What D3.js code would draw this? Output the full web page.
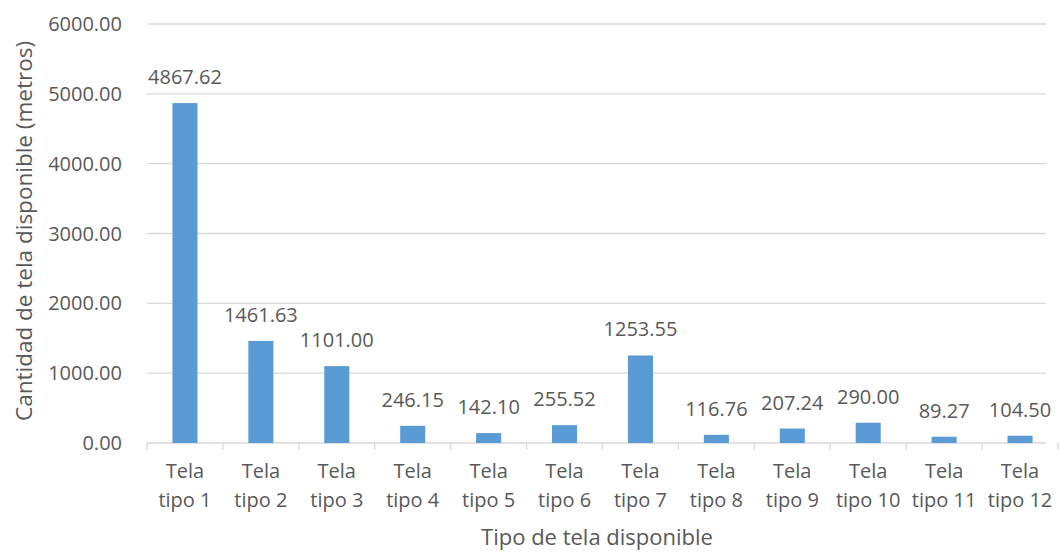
<!DOCTYPE html>
<html>
<head>
<meta charset="utf-8">
<script src="https://cdn.jsdelivr.net/npm/d3@7"></script>
<style>
  body { margin: 0; background: #fff; }
  svg text { font-family: "Open Sans", sans-serif; fill: #595959; }
</style>
</head>
<body>
<svg id="chart" width="1059" height="553"></svg>
<script>
(function() {
    var categories = ["Tela tipo 1", "Tela tipo 2", "Tela tipo 3", "Tela tipo 4", "Tela tipo 5", "Tela tipo 6",
                      "Tela tipo 7", "Tela tipo 8", "Tela tipo 9", "Tela tipo 10", "Tela tipo 11", "Tela tipo 12"];
    var values = [4867.62, 1461.63, 1101.00, 246.15, 142.10, 255.52, 1253.55, 116.76, 207.24, 290.00, 89.27, 104.50];
    var yTicks = [0, 1000, 2000, 3000, 4000, 5000, 6000];

    var left = 147, right = 1058, top = 24, bottom = 443;

    var svg = d3.select("#chart");

    var x = d3.scaleBand()
        .domain(categories)
        .range([left, right])
        .paddingInner(0.67)
        .paddingOuter(0.335);

    var y = d3.scaleLinear()
        .domain([0, 6000])
        .range([bottom, top]);

    // gridlines
    svg.append("g")
        .selectAll("line")
        .data(yTicks)
        .join("line")
            .attr("x1", left)
            .attr("x2", right - 12)
            .attr("y1", (d) => y(d))
            .attr("y2", (d) => y(d))
            .attr("stroke", "#d9d9d9")
            .attr("stroke-width", 1.3);

    // y tick labels
    svg.append("g")
        .selectAll("text")
        .data(yTicks)
        .join("text")
            .attr("x", 122)
            .attr("y", (d) => y(d))
            .attr("dy", "0.35em")
            .attr("text-anchor", "end")
            .style("font-size", "20px")
            .text((d) => d.toFixed(2));

    // x axis ticks
    var bandStep = x.step();
    var tickPos = categories.map((c, i) => left + i * bandStep).concat([right]);
    svg.append("g")
        .selectAll("line")
        .data(tickPos)
        .join("line")
            .attr("x1", (d) => d)
            .attr("x2", (d) => d)
            .attr("y1", bottom)
            .attr("y2", bottom + 7)
            .attr("stroke", "#d9d9d9")
            .attr("stroke-width", 1.3);

    // bars
    svg.append("g")
        .selectAll("rect")
        .data(values)
        .join("rect")
            .attr("x", (d, i) => x(categories[i]))
            .attr("y", (d) => y(d))
            .attr("width", x.bandwidth())
            .attr("height", (d) => bottom - y(d))
            .attr("fill", "#5b9bd5");

    // value labels
    svg.append("g")
        .selectAll("text")
        .data(values)
        .join("text")
            .attr("x", (d, i) => x(categories[i]) + x.bandwidth() / 2)
            .attr("y", (d) => y(d) - 19)
            .attr("text-anchor", "middle")
            .style("font-size", "20px")
            .text((d) => d.toFixed(2));

    // category labels (two lines)
    var cat = svg.append("g")
        .selectAll("text")
        .data(categories)
        .join("text")
            .attr("text-anchor", "middle")
            .style("font-size", "20px");
    cat.append("tspan")
        .attr("x", (d) => x(d) + x.bandwidth() / 2)
        .attr("y", 478)
        .text((d) => d.split(" ")[0]);
    cat.append("tspan")
        .attr("x", (d) => x(d) + x.bandwidth() / 2)
        .attr("y", 507)
        .text((d) => d.split(" ").slice(1).join(" "));

    // axis titles
    svg.append("text")
        .attr("x", 597)
        .attr("y", 545)
        .attr("text-anchor", "middle")
        .style("font-size", "22px")
        .text("Tipo de tela disponible");

    svg.append("text")
        .attr("transform", "translate(32," + 231 + ") rotate(-90)")
        .attr("text-anchor", "middle")
        .style("font-size", "22.5px")
        .text("Cantidad de tela disponible (metros)");
})();
</script>
</body>
</html>
